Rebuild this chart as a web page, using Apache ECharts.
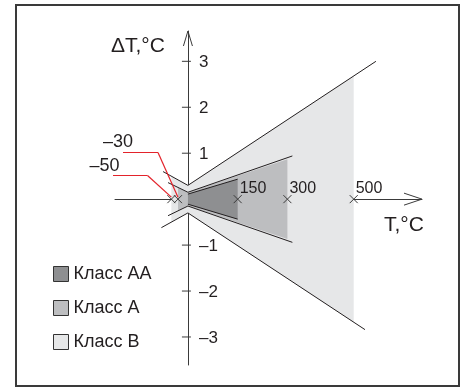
<!DOCTYPE html>
<html><head><meta charset="utf-8">
<script src="https://cdn.jsdelivr.net/npm/echarts@6/dist/echarts.min.js"></script>
<style>html,body{margin:0;padding:0;background:#fff}#c{width:464px;height:390px}</style>
</head><body><div id="c"></div>
<script>
// ---------- data ----------
const classNames = ['Класс AA', 'Класс A', 'Класс B'];
const classColors = ['#8e8f91', '#bdbec0', '#e6e7e8'];
// shaded tolerance zones: temperature T (°C) and half-width ±ΔT (°C)
const zoneAA_T = [0, 150];
const zoneAA_D = [0.11, 0.435];
const zoneA_T = [-30, 0, 300];
const zoneA_D = [0.25, 0.15, 0.87];
const zoneB_T = [-50, 0, 500];
const zoneB_D = [0.50, 0.30, 2.68];
// tolerance boundary lines
const lineB_up_T = [-75, 0, 567];
const lineB_up_D = [0.60, 0.30, 3.00];
const lineB_lo_T = [-80, 0, 534];
const lineB_lo_D = [-0.62, -0.30, -2.84];
const lineA_T = [-60, 0, 315];
const lineA_D = [0.36, 0.15, 0.94];
const lineAA_T = [0, 150];
const lineAA_D = [0.11, 0.435];
// range limits marked on the T axis
const markT = [-50, -30, 150, 300, 500];
const xTickLabels = [150, 300, 500];
const yTickLabels = [3, 2, 1, -1, -2, -3];
const calloutT = [-30, -50];
const calloutText = ['–30', '–50'];

// ---------- chart ----------
const INK = '#231f20', AXIS = '#3a3a3a', RED = '#e3232b';
const FONT = '"Liberation Sans", Arial, sans-serif';
const X_MIN = -220, X_MAX = 706, Y_MIN = -3.61, Y_MAX = 3.66;
const minus = v => String(v).replace('-', '–');

function band(name, T, D, color, z) {
  return {
    type: 'custom', name, z, clip: false, silent: true,
    itemStyle: { color, borderColor: '#333', borderWidth: 1 },
    data: [[T[0], D[0]]],
    renderItem: (p, api) => {
      const up = T.map((t, i) => api.coord([t, D[i]]));
      const lo = T.map((t, i) => api.coord([t, -D[i]])).reverse();
      return { type: 'polygon', shape: { points: up.concat(lo) }, style: { fill: color } };
    }
  };
}
function line(T, D, z) {
  return { type: 'line', data: T.map((t, i) => [t, D[i]]), symbol: 'none', silent: true,
    lineStyle: { color: INK, width: 1 }, z };
}
const neg = a => a.map(v => -v);

const calloutKnee = [[158, 152.5], [147.5, 175.5]];
const calloutLeft = [123, 113];
const calloutTextPos = [[103, 142.5], [89.5, 166.5]];

const decor = {
  type: 'custom', z: 20, clip: false, silent: true, data: [[0, 0]],
  renderItem: (p, api) => {
    const ch = [];
    const seg = (a, b, color, w) => ch.push({ type: 'line',
      shape: { x1: a[0], y1: a[1], x2: b[0], y2: b[1] },
      style: { stroke: color || AXIS, lineWidth: w || 1 } });
    const txt = (x, y, s, size, va) => ch.push({ type: 'text', x, y,
      style: { text: s, fill: INK, fontSize: size, fontFamily: FONT, verticalAlign: va || 'middle', align: 'left' } });
    const xt = api.coord([X_MAX, 0]);
    seg([xt[0] - 18, xt[1] - 6], xt); seg([xt[0] - 18, xt[1] + 6], xt);
    const yt = api.coord([0, Y_MAX]);
    seg([yt[0] - 4.5, yt[1] + 15], yt); seg([yt[0] + 4.5, yt[1] + 15], yt);
    yTickLabels.forEach(v => { const c = api.coord([0, v]);
      seg([c[0] - 6, c[1]], [c[0] + 3, c[1]]);
      txt(c[0] + 11, c[1] + 1, minus(v), 17); });
    xTickLabels.forEach(t => { const c = api.coord([t, 0]);
      txt(c[0] + 2, c[1] - 3, String(t), 16, 'bottom'); });
    markT.forEach(t => { const c = api.coord([t, 0]);
      seg([c[0] - 4, c[1] - 4], [c[0] + 4, c[1] + 4]); seg([c[0] - 4, c[1] + 4], [c[0] + 4, c[1] - 4]); });
    calloutT.forEach((t, i) => {
      const c = api.coord([t, 0]);
      const k = calloutKnee[i];
      seg([calloutLeft[i], k[1]], k, RED, 1.2);
      seg(k, [c[0], c[1] - 2], RED, 1.2);
      txt(calloutTextPos[i][0], calloutTextPos[i][1], calloutText[i], 18);
    });
    return { type: 'group', children: ch };
  }
};

const chart = echarts.init(document.getElementById('c'));
chart.setOption({
  animation: false,
  backgroundColor: '#fff',
  grid: { left: 115, top: 31, width: 307, height: 334 },
  xAxis: { type: 'value', min: X_MIN, max: X_MAX,
    axisLine: { onZero: true, lineStyle: { color: AXIS, width: 1 } },
    axisTick: { show: false }, splitLine: { show: false }, axisLabel: { show: false } },
  yAxis: { type: 'value', min: Y_MIN, max: Y_MAX,
    axisLine: { onZero: true, lineStyle: { color: AXIS, width: 1 } },
    axisTick: { show: false }, splitLine: { show: false }, axisLabel: { show: false } },
  legend: { data: classNames, orient: 'vertical', left: 48, top: 260, icon: 'rect',
    itemWidth: 15, itemHeight: 15, itemGap: 16, itemStyle: { borderColor: '#333', borderWidth: 1 },
    textStyle: { fontSize: 18, color: INK, fontFamily: FONT }, selectedMode: false },
  graphic: [
    { type: 'rect', shape: { x: 16, y: 5, width: 443, height: 381 },
      style: { fill: null, stroke: AXIS, lineWidth: 2 } },
    { type: 'text', x: 111, y: 46, style: { text: 'ΔT,°C', fontSize: 21, fill: INK, fontFamily: FONT, verticalAlign: 'middle' } },
    { type: 'text', x: 384, y: 225, style: { text: 'T,°C', fontSize: 21, fill: INK, fontFamily: FONT, verticalAlign: 'middle' } }
  ],
  series: [
    band(classNames[2], zoneB_T, zoneB_D, classColors[2], 1),
    band(classNames[1], zoneA_T, zoneA_D, classColors[1], 2),
    band(classNames[0], zoneAA_T, zoneAA_D, classColors[0], 3),
    line(lineB_up_T, lineB_up_D, 5),
    line(lineB_lo_T, lineB_lo_D, 5),
    line(lineA_T, lineA_D, 5),
    line(lineA_T, neg(lineA_D), 5),
    line(lineAA_T, lineAA_D, 5),
    line(lineAA_T, neg(lineAA_D), 5),
    decor
  ]
});
</script></body></html>
